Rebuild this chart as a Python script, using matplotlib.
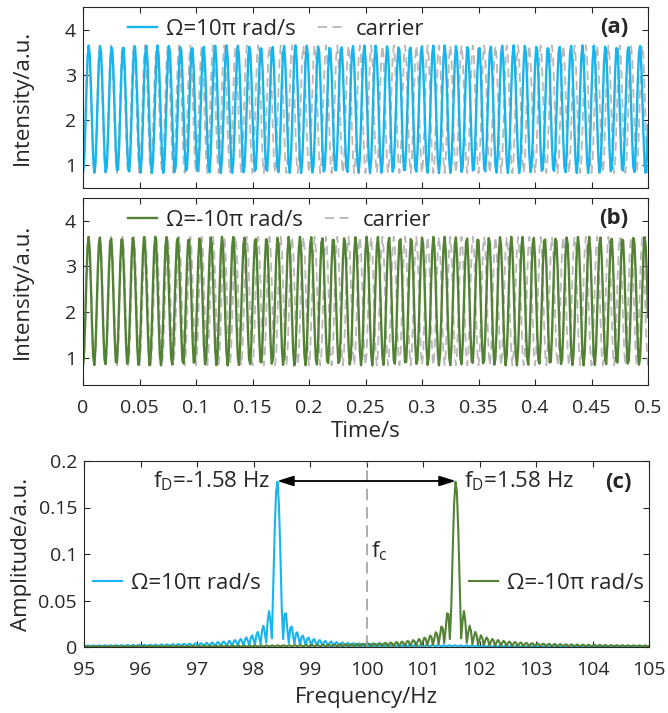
import numpy as np
import matplotlib
matplotlib.use("Agg")
import matplotlib.pyplot as plt

# signal parameters
f_carrier = 100.0          # Hz
f_doppler = 1.58           # Hz, shift for |Omega| = 10*pi rad/s
i_mean = 2.24              # a.u.
i_amp = 1.41               # a.u.
fs = 1000.0                # sampling rate of the traces, Hz
t_end = 0.5                # s
window_s = 10.0            # record length used for the spectrum, s
peak_amp = 0.1785          # spectral peak, a.u.
df = 0.025                 # spectral grid step, Hz

time_ticks = [0, 0.05, 0.1, 0.15, 0.2, 0.25, 0.3, 0.35, 0.4, 0.45, 0.5]
time_labels = ["0", "0.05", "0.1", "0.15", "0.2", "0.25", "0.3", "0.35",
               "0.4", "0.45", "0.5"]
freq_ticks = [95, 96, 97, 98, 99, 100, 101, 102, 103, 104, 105]
amp_ticks = [0, 0.05, 0.1, 0.15, 0.2]
amp_labels = ["0", "0.05", "0.1", "0.15", "0.2"]

c_blue = "#17B4EE"
c_green = "#548235"
c_gray = "#B8B8B8"
c_text = "#262626"

plt.rcParams["font.family"] = ["Open Sans", "DejaVu Sans"]
plt.rcParams["mathtext.fontset"] = "custom"
plt.rcParams["mathtext.rm"] = "Open Sans"
plt.rcParams["mathtext.it"] = "Open Sans"
plt.rcParams["font.size"] = 14
plt.rcParams["text.color"] = c_text
plt.rcParams["axes.edgecolor"] = c_text
plt.rcParams["axes.labelcolor"] = c_text
plt.rcParams["xtick.color"] = c_text
plt.rcParams["ytick.color"] = c_text

t = np.arange(0, t_end + 1 / fs / 2, 1 / fs)
f_up = f_carrier - f_doppler
f_down = f_carrier + f_doppler
carrier = i_mean - i_amp * np.cos(2 * np.pi * f_carrier * t)
sig_a = i_mean - i_amp * np.cos(2 * np.pi * f_up * t)
sig_b = i_mean - i_amp * np.cos(2 * np.pi * f_down * t)

freq = np.arange(95, 105 + df / 2, df)
spec_a = peak_amp * np.abs(np.sinc((freq - f_up) * window_s))
spec_b = peak_amp * np.abs(np.sinc((freq - f_down) * window_s))

W, H = 668, 713
fig = plt.figure(figsize=(W / 100, H / 100), dpi=100)


def px_axes(x0, y0, x1, y1):
    return fig.add_axes([x0 / W, 1 - y1 / H, (x1 - x0) / W, (y1 - y0) / H])


def style(ax):
    ax.tick_params(direction="in", top=True, right=True, length=4, width=0.8,
                   labelsize=14)
    ax.tick_params(axis="x", pad=10)
    ax.tick_params(axis="y", pad=5)
    for s in ax.spines.values():
        s.set_linewidth(0.8)


ax_a = px_axes(83, 7, 648, 188)
ax_b = px_axes(83, 198, 648, 385)
ax_c = px_axes(84, 461, 649, 647)

for ax, sig, col, lab, ylim, tag, ly in [
    (ax_a, sig_a, c_blue, "Ω=10π rad/s", (0.5, 4.5), "(a)", 0.878),
    (ax_b, sig_b, c_green, "Ω=-10π rad/s", (0.4, 4.5), "(b)", 0.882),
]:
    hc, = ax.plot(t, carrier, color=c_gray, lw=1.3, ls=(0, (5, 3)))
    hs, = ax.plot(t, sig, color=col, lw=1.7)
    ax.set_xlim(0, t_end)
    ax.set_ylim(*ylim)
    ax.set_xticks(time_ticks)
    ax.set_yticks([1, 2, 3, 4])
    ax.set_ylabel("Intensity/a.u.", fontsize=16)
    ax.yaxis.set_label_coords(-0.088, 0.5)
    style(ax)
    ax.legend([hs, hc], [lab, "carrier"], loc="center left",
              bbox_to_anchor=(0.08, ly), ncol=2, frameon=False, borderpad=0,
              borderaxespad=0, handlelength=1.3, handletextpad=0.4,
              columnspacing=1.0, fontsize=16)
    ax.text(0.965, ly + 0.01, tag, transform=ax.transAxes, ha="right",
            va="center", fontsize=16, fontweight="bold")

ax_a.set_xticklabels([])
ax_b.set_xticklabels(time_labels)
ax_b.set_xlabel("Time/s", fontsize=16)
ax_b.xaxis.set_label_coords(0.5, -0.195)

# spectrum
la, = ax_c.plot(freq, spec_a, color=c_blue, lw=1.5)
lb, = ax_c.plot(freq, spec_b, color=c_green, lw=1.5)
ax_c.plot([f_carrier, f_carrier], [0, 0.2], color="#A0A0A0", lw=1.2,
          ls=(0, (7, 4)))
ax_c.annotate("", xy=(f_up, peak_amp), xytext=(f_down, peak_amp),
              arrowprops=dict(arrowstyle="<|-|>,head_length=0.7,head_width=0.22",
                              color="black", lw=1.3, mutation_scale=14,
                              shrinkA=0, shrinkB=0))
ax_c.text(f_up - 0.12, peak_amp, r"f$_{\mathrm{D}}$=-1.58 Hz", ha="right",
          va="center", fontsize=16)
ax_c.text(f_down + 0.15, peak_amp, r"f$_{\mathrm{D}}$=1.58 Hz", ha="left",
          va="center", fontsize=16)
ax_c.text(f_carrier + 0.08, 0.103, r"f$_{\mathrm{c}}$", ha="left",
          va="center", fontsize=16)
ax_c.text(0.97, 0.882, "(c)", transform=ax_c.transAxes, ha="right",
          va="center", fontsize=16, fontweight="bold")
ax_c.set_xlim(95, 105)
ax_c.set_ylim(0, 0.2)
ax_c.set_xticks(freq_ticks)
ax_c.set_yticks(amp_ticks)
ax_c.set_yticklabels(amp_labels)
ax_c.set_xlabel("Frequency/Hz", fontsize=16)
ax_c.xaxis.set_label_coords(0.5, -0.215)
ax_c.set_ylabel("Amplitude/a.u.", fontsize=16)
ax_c.yaxis.set_label_coords(-0.092, 0.5)
style(ax_c)

leg_kw = dict(frameon=False, borderpad=0, borderaxespad=0, handlelength=1.3,
              handletextpad=0.4, fontsize=16, loc="center left")
leg1 = ax_c.legend([la], ["Ω=10π rad/s"], bbox_to_anchor=(0.016, 0.344),
                   **leg_kw)
ax_c.add_artist(leg1)
ax_c.legend([lb], ["Ω=-10π rad/s"], bbox_to_anchor=(0.681, 0.344), **leg_kw)

fig.savefig("out.png", dpi=100)
